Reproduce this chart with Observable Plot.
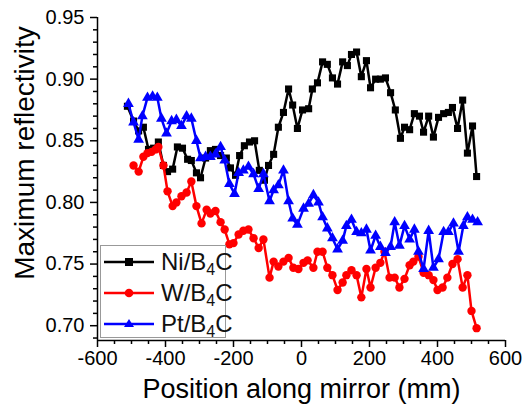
<!DOCTYPE html>
<html><head><meta charset="utf-8">
<script src="https://cdn.jsdelivr.net/npm/d3@7"></script>
<script src="https://cdn.jsdelivr.net/npm/@observablehq/plot@0.6"></script>
<style>
body{margin:0;background:#fff;}
#wrap{position:relative;width:524px;height:418px;font-family:"Liberation Sans",Arial,sans-serif;}
#legend{position:absolute;left:100px;top:245px;width:124px;height:91px;border:1px solid #999;background:#fff;box-sizing:content-box;}
.row{position:absolute;left:0;height:30px;display:flex;align-items:center;white-space:nowrap;}
.row span{font-size:24px;color:#111;margin-left:4px;line-height:30px;}
.row sub{font-size:16px;vertical-align:-5px;line-height:0;}
svg{overflow:visible;}
</style></head><body><div id="wrap"></div>
<script>
// ---- data (position in mm, maximum reflectivity) ----
const seriesNames = ["Ni/B4C", "W/B4C", "Pt/B4C"];
const niX = [-512,-494,-479,-465,-450,-435,-421,-406,-394,-379,-365,-350,-335,-324,-309,-297,-282,-268,-253,-238,-221,-209,-194,-182,-168,-153,-138,-124,-109,-97,-82,-68,-53,-38,-26,-12,3,21,32,47,62,76,91,106,121,135,147,162,176,191,203,218,232,247,262,276,291,303,318,332,347,359,374,388,403,418,432,444,459,474,488,503,515];
const niY = [.878,.866,.858,.861,.843,.844,.849,.830,.825,.827,.845,.844,.835,.834,.824,.820,.836,.842,.843,.838,.836,.828,.822,.838,.846,.849,.850,.826,.818,.830,.839,.861,.873,.892,.879,.860,.875,.876,.892,.897,.914,.912,.901,.896,.914,.911,.920,.922,.902,.915,.893,.900,.900,.901,.889,.875,.852,.861,.859,.872,.870,.857,.870,.853,.869,.872,.873,.877,.860,.883,.840,.862,.821];
const wX = [-494,-479,-465,-453,-441,-429,-421,-406,-394,-379,-368,-353,-338,-324,-309,-294,-279,-268,-253,-238,-226,-212,-200,-185,-171,-156,-141,-126,-112,-94,-82,-68,-53,-38,-24,-9,6,18,35,47,62,76,91,106,121,132,147,162,176,191,203,218,232,244,259,274,288,303,318,329,344,359,374,388,400,415,429,444,459,474,488,500,515];
const wY = [.830,.825,.837,.840,.841,.843,.845,.830,.809,.797,.800,.805,.808,.817,.797,.783,.794,.791,.793,.784,.778,.766,.767,.774,.777,.778,.771,.763,.770,.739,.752,.748,.752,.755,.747,.746,.751,.753,.747,.760,.760,.747,.741,.729,.735,.741,.745,.741,.723,.746,.731,.747,.751,.760,.739,.739,.731,.738,.749,.752,.756,.743,.741,.737,.729,.731,.739,.750,.754,.731,.741,.712,.698];
const ptX = [-509,-494,-479,-468,-453,-438,-424,-412,-397,-382,-368,-353,-338,-324,-309,-297,-282,-268,-253,-238,-226,-212,-197,-185,-171,-156,-141,-126,-112,-94,-82,-68,-53,-38,-26,-12,6,21,35,50,62,76,91,106,121,132,147,162,176,191,203,218,232,247,262,274,288,303,318,332,344,359,374,388,403,418,432,447,462,476,488,503,518];
const ptY = [.880,.865,.851,.870,.885,.886,.885,.868,.856,.866,.867,.862,.870,.868,.850,.836,.837,.837,.839,.845,.834,.815,.807,.824,.826,.829,.823,.811,.823,.801,.810,.814,.826,.801,.787,.782,.795,.799,.806,.800,.788,.779,.771,.762,.769,.781,.786,.776,.775,.778,.761,.773,.764,.759,.764,.784,.765,.781,.770,.778,.760,.746,.777,.747,.754,.776,.776,.783,.760,.781,.788,.786,.784];
const xTicks = [-600,-400,-200,0,200,400,600];
const yTicks = [0.70,0.75,0.80,0.85,0.90,0.95];
const xDomain = [-600,600];
const yDomain = [0.688,0.95];

const ni = niX.map((x,i)=>({x, y:niY[i]}));
const w  = wX.map((x,i)=>({x, y:wY[i]}));
const pt = ptX.map((x,i)=>({x, y:ptY[i]}));
const xMinor = d3.range(-550, 600, 50).filter(v => !xTicks.includes(v));
const yMinor = d3.range(69, 96).map(v => v/100).filter(v => !yTicks.some(t => Math.abs(t-v)<1e-9));

const font = '"Liberation Sans", Arial, sans-serif';
const chart = Plot.plot({
  width: 524, height: 418,
  marginLeft: 97, marginRight: 19, marginTop: 17, marginBottom: 78,
  x: {domain: xDomain},
  y: {domain: yDomain},
  style: {fontFamily: font, fontSize: "20px", color: "#000", background: "#fff", overflow: "visible"},
  marks: [
    Plot.axisX({ticks: xTicks, tickSize: 7, tickPadding: 3, strokeWidth: 1.5, tickFormat: d => String(d), fontSize: 20, label: null}),
    Plot.axisX({ticks: xMinor, tickSize: 4, strokeWidth: 1.5, tickFormat: () => "", label: null}),
    Plot.axisY({ticks: yTicks, tickSize: 7, tickPadding: 6, strokeWidth: 1.5, tickFormat: d => d.toFixed(2), fontSize: 20, label: null}),
    Plot.axisY({ticks: yMinor, tickSize: 4, strokeWidth: 1.5, tickFormat: () => "", label: null}),
    Plot.ruleY([yDomain[0]], {stroke: "#000", strokeWidth: 1.5}),
    Plot.ruleX([xDomain[0]], {stroke: "#000", strokeWidth: 1.5}),
    Plot.line(ni, {x: "x", y: "y", stroke: "#000", strokeWidth: 2.5}),
    Plot.dot(ni, {x: "x", y: "y", symbol: "square", fill: "#000", r: 4}),
    Plot.line(w, {x: "x", y: "y", stroke: "#ff0000", strokeWidth: 2.5}),
    Plot.dot(w, {x: "x", y: "y", symbol: "circle", fill: "#ff0000", r: 4.2}),
    Plot.line(pt, {x: "x", y: "y", stroke: "#0000ff", strokeWidth: 2.5}),
    Plot.dot(pt, {x: "x", y: "y", symbol: "triangle", fill: "#0000ff", r: 4}),
    Plot.text(["Position along mirror (mm)"], {text: d => d, frameAnchor: "bottom", dy: 57, fontSize: 27, fill: "#000"}),
    Plot.text(["Maximum reflectivity"], {text: d => d, frameAnchor: "left", textAnchor: "middle", rotate: -90, dx: -72, dy: -26, fontSize: 28, fill: "#000"})
  ]
});
const wrap = document.getElementById("wrap");
wrap.appendChild(chart);

// legend
const legend = document.createElement("div");
legend.id = "legend";
const items = [
  {name: "Ni", color: "#000", sym: "square"},
  {name: "W", color: "#ff0000", sym: "circle"},
  {name: "Pt", color: "#0000ff", sym: "triangle"}
];
items.forEach((it, k) => {
  const row = document.createElement("div");
  row.className = "row";
  row.style.top = (1 + k * 31) + "px";
  let marker = "";
  if (it.sym === "square") marker = `<rect x="22" y="3" width="8" height="8" fill="${it.color}"/>`;
  if (it.sym === "circle") marker = `<circle cx="26" cy="7" r="4.3" fill="${it.color}"/>`;
  if (it.sym === "triangle") marker = `<path d="M26,2 L31,10 L21,10 Z" fill="${it.color}"/>`;
  row.innerHTML = `<svg width="54" height="14" style="margin-left:2px"><line x1="1" y1="7" x2="51" y2="7" stroke="${it.color}" stroke-width="2.5"/>${marker}</svg><span>${it.name}/B<sub>4</sub>C</span>`;
  legend.appendChild(row);
});
wrap.appendChild(legend);
</script></body></html>
